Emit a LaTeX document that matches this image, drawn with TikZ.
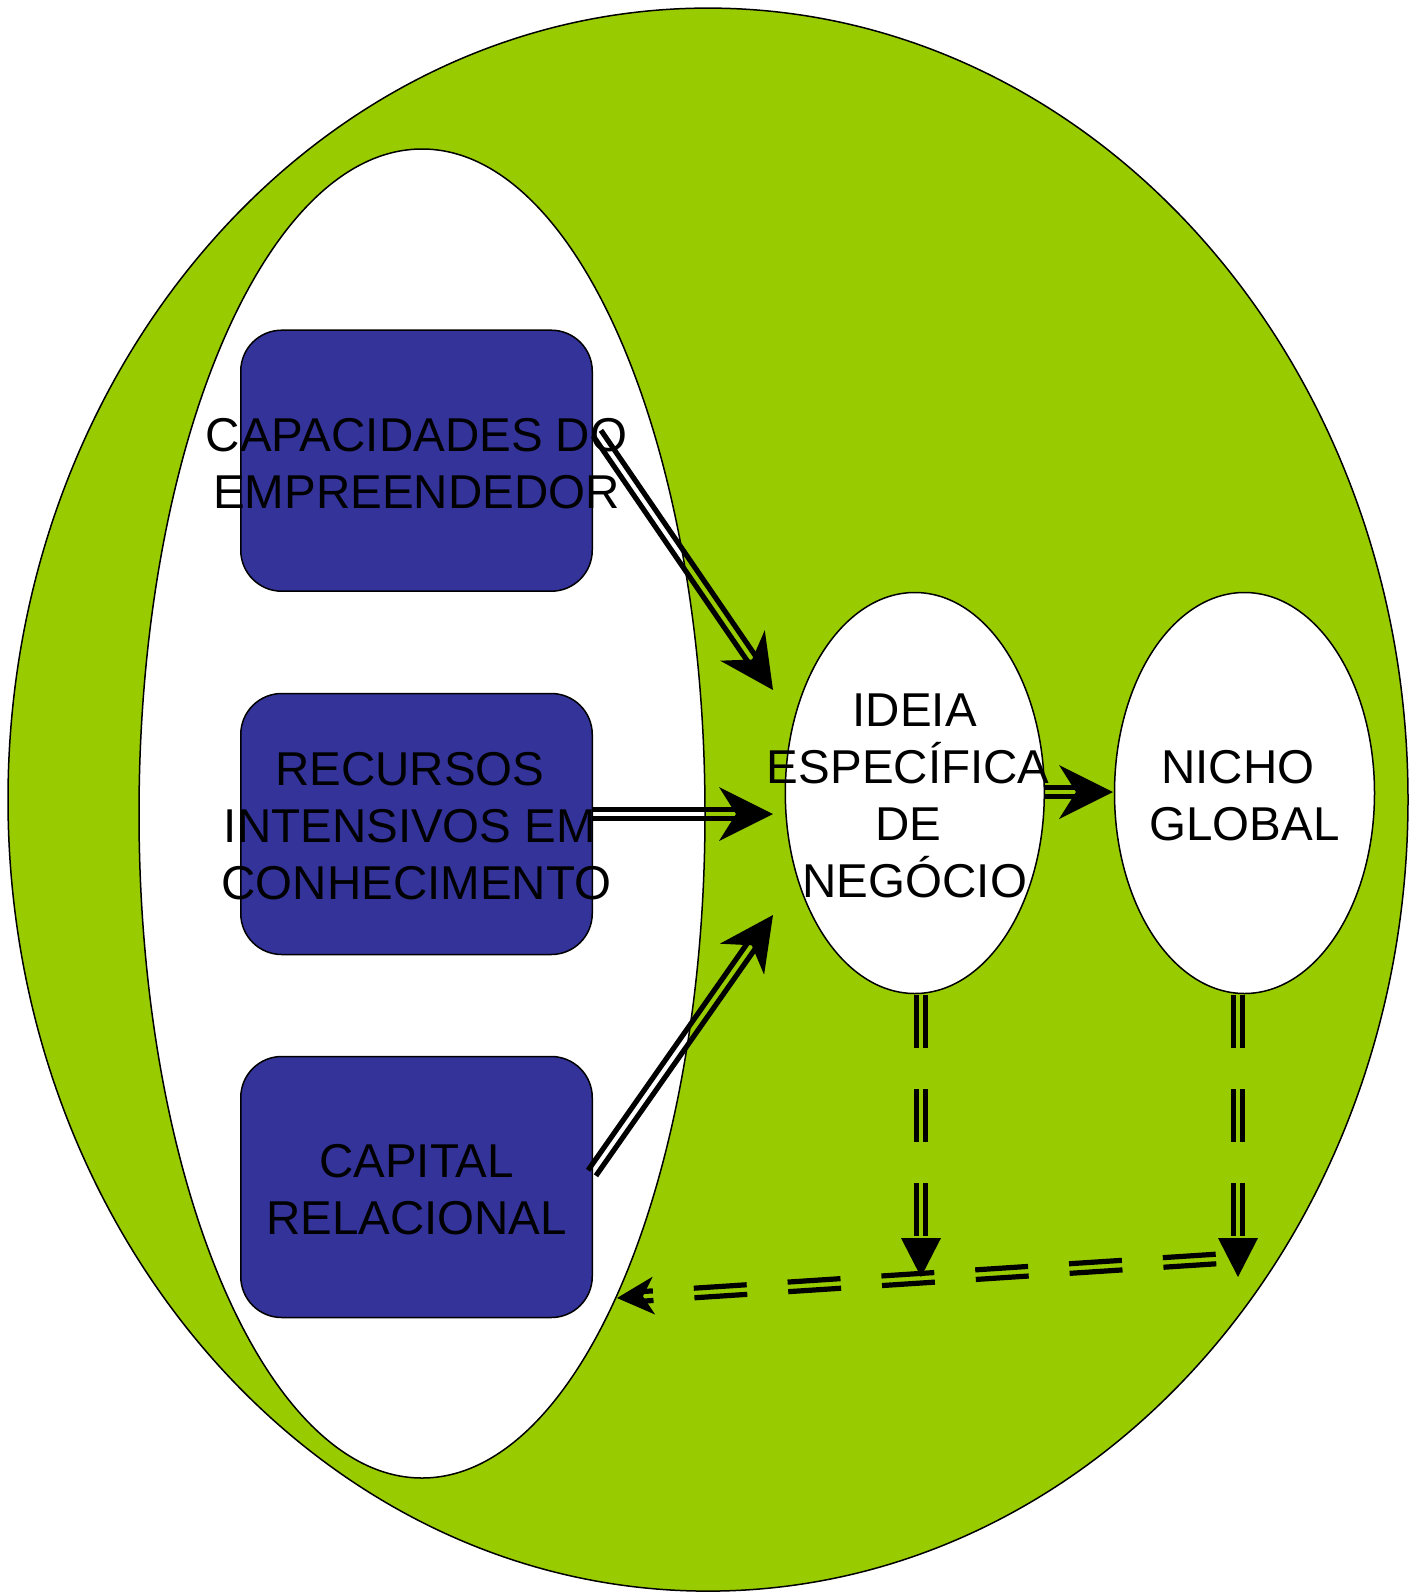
\documentclass[tikz,border=0pt]{standalone}
\usepackage{fontspec}
\setmainfont{Liberation Sans}
\usetikzlibrary{shapes.geometric,calc}
\definecolor{leaf}{HTML}{99CC00}
\definecolor{navy}{HTML}{333399}

% filled arrow head: tip, point it comes from, length, half width, notch depth
\newcommand\spear[5]{\fill (#1) -- ($(#1)!#3!(#2)!#4!90:(#1)$) -- ($(#1)!#5!(#2)$) -- ($(#1)!#3!(#2)!#4!-90:(#1)$) -- cycle;}
% a space kept at the end of a centred line
\newcommand\trail{\hbox{\ }}

\tikzset{
  twin/.style={to path={
      ($(\tikztostart)!4.8pt!90:(\tikztotarget)$) -- ($(\tikztotarget)!4.8pt!-90:(\tikztostart)$)
      ($(\tikztostart)!4.8pt!-90:(\tikztotarget)$) -- ($(\tikztotarget)!4.8pt!90:(\tikztostart)$)}},
  shaft/.style={line width=5.2pt, line cap=butt},
  dashedshaft/.style={shaft, dash pattern=on 53pt off 41pt},
  outline/.style={draw=black, line width=1.5pt},
  lbl/.style={align=center, inner sep=0pt, yshift=-2.5pt, font=\fontsize{47.5}{57}\selectfont},
  card/.style={outline, fill=navy, rectangle, rounded corners=41pt,
    minimum width=351.5pt, minimum height=261pt, inner sep=0pt},
  oval/.style={outline, fill=white, ellipse, inner sep=0pt},
}

\begin{document}
\begin{tikzpicture}[x=1pt, y=-1pt]
\useasboundingbox (0,0) rectangle (1409,1593);

% background areas
\node[oval, fill=leaf, minimum width=1400pt, minimum height=1583pt] (world) at (708,799.6) {};
\node[oval, minimum width=566pt, minimum height=1329pt] (inner) at (422,813.5) {};

% resource boxes
\node[card, label={[lbl]center:CAPACIDADES DO\\EMPREENDEDOR}] (cap) at (416.5,460.7) {};
\node[card, label={[lbl]center:RECURSOS\trail\\INTENSIVOS EM\trail\\CONHECIMENTO}] (rec) at (416.5,824) {};
\node[card, label={[lbl]center:CAPITAL\\RELACIONAL}] (rel) at (416.5,1187) {};

% idea and niche
\node[oval, minimum width=259pt, minimum height=401pt,
  label={[lbl]center:IDEIA\\ESPECÍFICA\trail\\DE\trail\\NEGÓCIO}] (ideia) at (914.8,793) {};
\node[oval, minimum width=260pt, minimum height=401pt,
  label={[lbl]center:NICHO\trail\\GLOBAL}] (nicho) at (1244.5,793) {};

% connector end points
\coordinate (a1s) at (597,433);   \coordinate (a1t) at (773,690);
\coordinate (a2s) at (593,814);   \coordinate (a2t) at (773,814);
\coordinate (a3s) at (592,1173);  \coordinate (a3t) at (773,915);
\coordinate (a4s) at (1044,792);  \coordinate (a4t) at (1113,792);
\coordinate (d1s) at (921,995);   \coordinate (d1t) at (921,1277);
\coordinate (d2s) at (1238,995);  \coordinate (d2t) at (1238,1277);
\coordinate (bks) at (1216,1259); \coordinate (bkt) at (617,1298);

% solid double arrows
\foreach \s/\t in {a1s/a1t, a2s/a2t, a3s/a3t, a4s/a4t}{
  \coordinate (e) at ($(\t)!36pt!(\s)$);
  \draw[shaft] (\s) to[twin] (e);
  \spear{\t}{\s}{54pt}{27pt}{37pt}
}

% dashed double arrows down to the feedback line
\foreach \s/\t in {d1s/d1t, d2s/d2t}{
  \coordinate (e) at ($(\t)!39pt!(\s)$);
  \draw[dashedshaft] (\s) to[twin] (e);
  \spear{\t}{\s}{39pt}{20pt}{39pt}
}

% dashed feedback arrow back to the resources
\coordinate (bke) at ($(bkt)!26pt!(bks)$);
\draw[dashedshaft] (bks) to[twin] (bke);
\spear{bkt}{bks}{37pt}{19pt}{26pt}
\end{tikzpicture}
\end{document}
